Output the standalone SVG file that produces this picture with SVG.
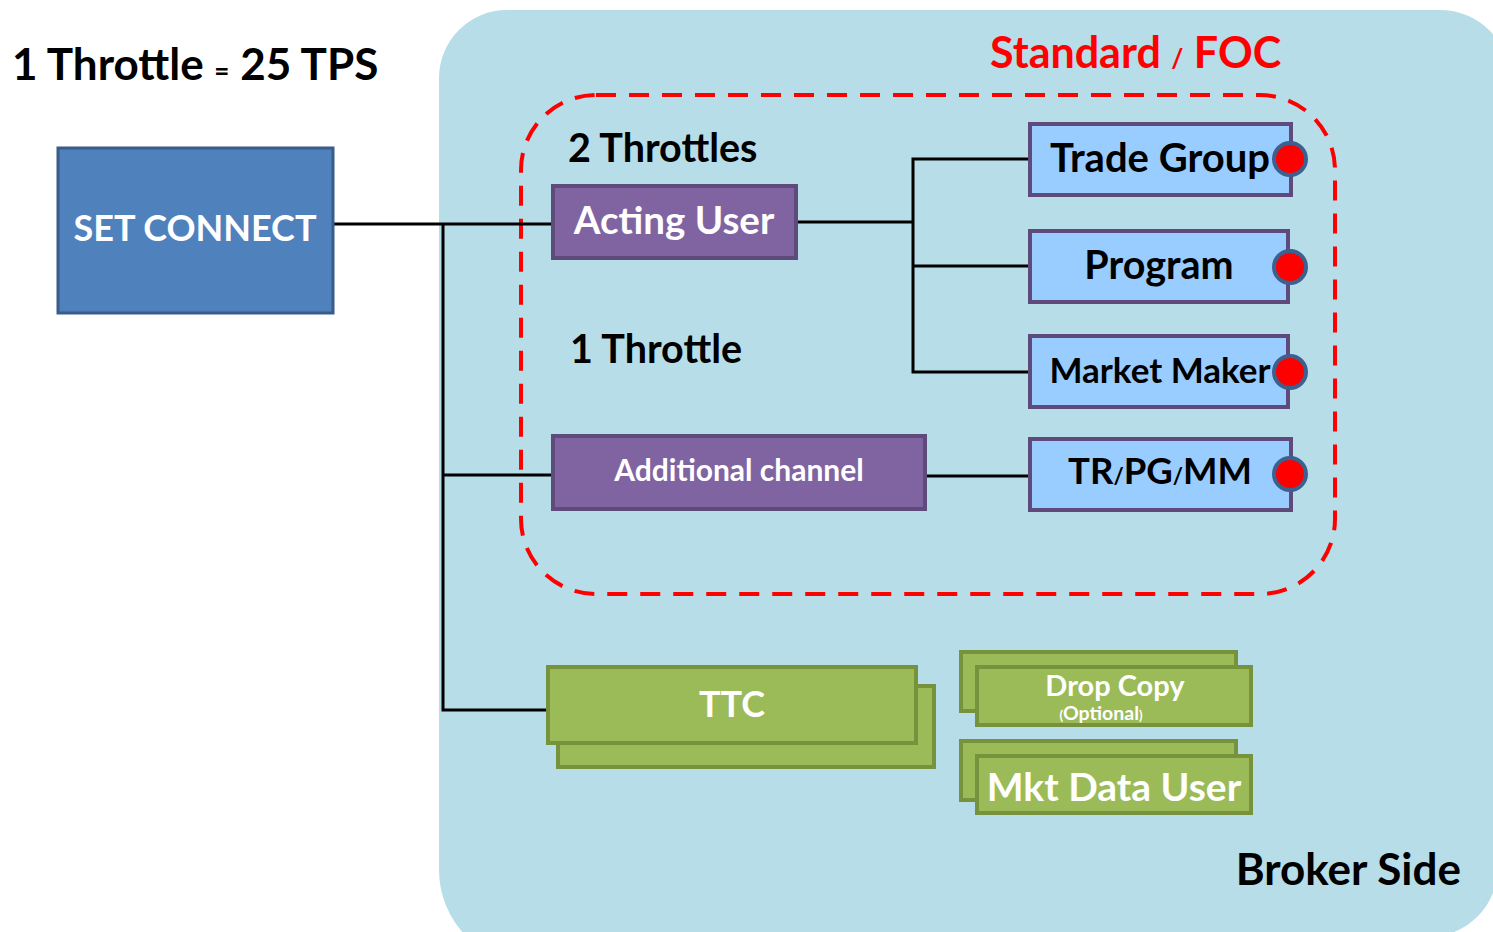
<svg xmlns="http://www.w3.org/2000/svg" width="1493" height="932" viewBox="0 0 1493 932">
<style>
text{font-family:Lato,"Open Sans","Liberation Sans",sans-serif;font-weight:bold}
.blk{fill:#000}
.wht{fill:#fff}
.conn{stroke:#000;stroke-width:3;fill:none}
.purple{fill:#8064a2;stroke:#5f4a7c;stroke-width:4}
.lblue{fill:#99ccff;stroke:#5f4a7c;stroke-width:4}
.green{fill:#9bbb59;stroke:#76923c;stroke-width:4}
.dot{fill:#ff0000;stroke:#3c6190;stroke-width:4}
</style>
<rect width="1493" height="932" fill="#fff"/>
<g id="broker-side">
<path d="M439,78 A68,68 0 0 1 507,10 H1440 A70,70 0 0 1 1510,80 L1498,867 A70,70 0 0 1 1428,937 L533,964 A94,94 0 0 1 439,870 Z" fill="#b7dde8"/>
<text x="1461" y="885" font-size="44" text-anchor="end" class="blk">Broker Side</text>
</g>
<g id="standard-foc">
<rect x="521" y="95" width="814" height="499" rx="75" ry="75" fill="none" stroke="#ff0000" stroke-width="4" stroke-dasharray="20 13"/>
<text x="990" y="68" font-size="43" fill="#ff0000">Standard <tspan font-size="26">/</tspan> FOC</text>
</g>
<text x="12" y="80" font-size="44" class="blk">1 Throttle <tspan font-size="26">=</tspan> 25 TPS</text>
<text x="568" y="162" font-size="39.5" class="blk">2 Throttles</text>
<text x="570" y="363" font-size="39.5" class="blk">1 Throttle</text>
<g id="connectors">
<polyline class="conn" points="333,224 553,224"/>
<polyline class="conn" points="443,224 443,710 548,710"/>
<polyline class="conn" points="443,475 553,475"/>
<polyline class="conn" points="796,222 913,222"/>
<polyline class="conn" points="1030,159 913,159 913,372 1030,372"/>
<polyline class="conn" points="913,266 1030,266"/>
<polyline class="conn" points="925,476 1030,476"/>
</g>
<g id="set-connect">
<rect x="58" y="148" width="275" height="165" fill="#4f81bd" stroke="#385d8a" stroke-width="3"/>
<text x="195" y="241" font-size="36" text-anchor="middle" class="wht">SET CONNECT</text>
</g>
<g id="acting-user">
<rect x="553" y="186" width="243" height="72" class="purple"/>
<text x="674" y="234" font-size="38.5" text-anchor="middle" class="wht">Acting User</text>
</g>
<g id="additional-channel">
<rect x="553" y="436" width="372" height="73" class="purple"/>
<text x="739" y="481" font-size="30" text-anchor="middle" class="wht">Additional channel</text>
</g>
<g id="trade-group">
<rect x="1030" y="124" width="261" height="71" class="lblue"/>
<text x="1160" y="172" font-size="40" text-anchor="middle" class="blk">Trade Group</text>
<circle cx="1290" cy="159" r="16" class="dot"/>
</g>
<g id="program">
<rect x="1030" y="231" width="258" height="71" class="lblue"/>
<text x="1159" y="279" font-size="39.5" text-anchor="middle" class="blk">Program</text>
<circle cx="1290" cy="267" r="16" class="dot"/>
</g>
<g id="market-maker">
<rect x="1030" y="336" width="258" height="71" class="lblue"/>
<text x="1160" y="383" font-size="35" text-anchor="middle" class="blk">Market Maker</text>
<circle cx="1290" cy="372" r="16" class="dot"/>
</g>
<g id="tr-pg-mm">
<rect x="1030" y="439" width="261" height="71" class="lblue"/>
<text x="1160" y="484" font-size="36.5" text-anchor="middle" class="blk">TR<tspan font-size="22">/</tspan>PG<tspan font-size="22">/</tspan>MM</text>
<circle cx="1290" cy="474" r="16" class="dot"/>
</g>
<g id="ttc">
<rect x="558" y="686" width="376" height="81" class="green"/>
<rect x="548" y="667" width="368" height="76" class="green"/>
<text x="732" y="717" font-size="36" text-anchor="middle" class="wht">TTC</text>
</g>
<g id="drop-copy">
<rect x="961" y="652" width="275" height="59" class="green"/>
<rect x="977" y="667" width="274" height="58" class="green"/>
<text x="1115" y="696" font-size="29" text-anchor="middle" class="wht">Drop Copy</text>
<text x="1101" y="720" font-size="19.5" text-anchor="middle" class="wht"><tspan font-size="13">(</tspan>Optional<tspan font-size="13">)</tspan></text>
</g>
<g id="mkt-data-user">
<rect x="961" y="741" width="275" height="59" class="green"/>
<rect x="977" y="756" width="274" height="57" class="green"/>
<text x="1114" y="801" font-size="39" text-anchor="middle" class="wht">Mkt Data User</text>
</g>
</svg>
